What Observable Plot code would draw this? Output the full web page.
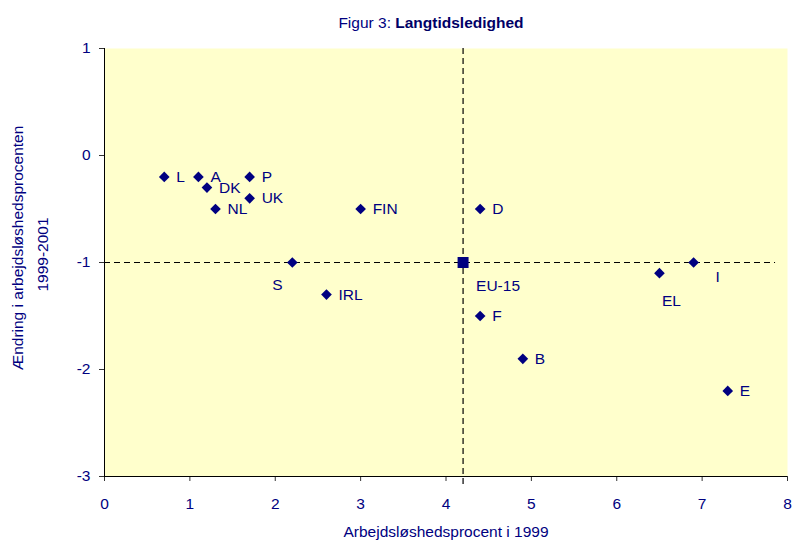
<!DOCTYPE html>
<html>
<head>
<meta charset="utf-8">
<script src="https://cdn.jsdelivr.net/npm/d3@7"></script>
<script src="https://cdn.jsdelivr.net/npm/@observablehq/plot@0.6"></script>
<style>
  html, body { margin: 0; padding: 0; background: #ffffff; }
  #wrap { position: relative; width: 792px; height: 545px; font-family: "Liberation Sans", Arial, sans-serif; }
  #title { position: absolute; left: 0; width: 862px; top: 14px; text-align: center; font-size: 15.5px; color: #000080; white-space: nowrap; }
  #title b { color: #000066; }
</style>
</head>
<body>
<div id="wrap">
  <div id="title">Figur 3: <b>Langtidsledighed</b></div>
</div>
<script>
// ---- data ----
const countries = ["L", "A", "DK", "P", "UK", "NL", "FIN", "S", "IRL", "D", "F", "B", "EL", "I", "E"];
const unemployment1999 = [0.7, 1.1, 1.2, 1.7, 1.7, 1.3, 3.0, 2.2, 2.6, 4.4, 4.4, 4.9, 6.5, 6.9, 7.3];
const change1999to2001 = [-0.2, -0.2, -0.3, -0.2, -0.4, -0.5, -0.5, -1.0, -1.3, -0.5, -1.5, -1.9, -1.1, -1.0, -2.2];
const euLabel = ["EU-15"];
const euUnemployment1999 = [4.2];
const euChange1999to2001 = [-1.0];
const xTicks = [0, 1, 2, 3, 4, 5, 6, 7, 8];
const yTicks = [-3, -2, -1, 0, 1];
const xTitle = "Arbejdsløshedsprocent i 1999";
const yTitleLines = ["Ændring i arbejdsløshedsprocenten", "1999-2001"];

// ---- tables built from the arrays ----
const points = countries.map((c, i) => ({label: c, x: unemployment1999[i], y: change1999to2001[i]}));
const eu = euLabel.map((c, i) => ({label: c, x: euUnemployment1999[i], y: euChange1999to2001[i]}));

// label placement (style config, not data)
const specialLabels = {
  "S":  {dx: -15, dy: 23, textAnchor: "middle"},
  "EL": {dx: 12, dy: 28, textAnchor: "middle"},
  "I":  {dx: 24, dy: 15, textAnchor: "middle"},
};

const navy = "#000080";
const font = "Liberation Sans, Arial, sans-serif";
const fs = 15.5;

const labelMarks = [
  Plot.text(points.filter(d => !specialLabels[d.label]), {
    x: "x", y: "y", text: "label", dx: 12, textAnchor: "start", fill: navy, fontSize: fs
  }),
  ...Object.entries(specialLabels).map(([k, o]) =>
    Plot.text(points.filter(d => d.label === k), {
      x: "x", y: "y", text: "label", dx: o.dx, dy: o.dy, textAnchor: o.textAnchor, fill: navy, fontSize: fs
    })
  ),
  Plot.text(eu, {x: "x", y: "y", text: "label", dx: 13, dy: 24, textAnchor: "start", fill: navy, fontSize: fs})
];

const chart = Plot.plot({
  width: 792,
  height: 545,
  marginLeft: 104,
  marginRight: 5,
  marginTop: 48,
  marginBottom: 69,
  style: {fontFamily: font, background: "transparent", overflow: "visible"},
  x: {domain: [0, 8]},
  y: {domain: [-3, 1]},
  marks: [
    Plot.frame({fill: "#FFFFCC", stroke: null}),
    Plot.ruleY([euChange1999to2001[0]], {x1: 0, x2: 7.86, stroke: "#000", strokeWidth: 1.2, strokeDasharray: "6,4"}),
    Plot.ruleX([euUnemployment1999[0]], {y1: 1, y2: -3.1, stroke: "#000", strokeWidth: 1.2, strokeDasharray: "6,4"}),
    Plot.axisX({ticks: xTicks, tickSize: 5, tickPadding: 16, stroke: "#333", fill: navy, fontSize: fs, label: null, tickFormat: d => String(d)}),
    Plot.axisY({ticks: yTicks, tickSize: 5, tickPadding: 9, stroke: "#333", fill: navy, fontSize: fs, label: null, tickFormat: d => String(d).replace("−", "-")}),
    Plot.ruleX([0], {stroke: "#000", strokeWidth: 1}),
    Plot.ruleY([-3], {stroke: "#000", strokeWidth: 1}),
    Plot.dot(points, {x: "x", y: "y", symbol: "diamond2", r: 4.8, fill: navy, stroke: null}),
    Plot.dot(eu, {x: "x", y: "y", symbol: "square", r: 6.2, fill: navy, stroke: null}),
    ...labelMarks,
    Plot.text([xTitle], {frameAnchor: "bottom", dy: 60, text: d => d, fill: navy, fontSize: fs}),
    Plot.text([yTitleLines[0]], {frameAnchor: "left", textAnchor: "middle", dx: -86, dy: -14.5, rotate: -90, text: d => d, fill: navy, fontSize: fs}),
    Plot.text([yTitleLines[1]], {frameAnchor: "left", textAnchor: "middle", dx: -61, dy: -8, rotate: -90, text: d => d, fill: navy, fontSize: fs})
  ]
});
document.getElementById("wrap").prepend(chart);
</script>
</body>
</html>
